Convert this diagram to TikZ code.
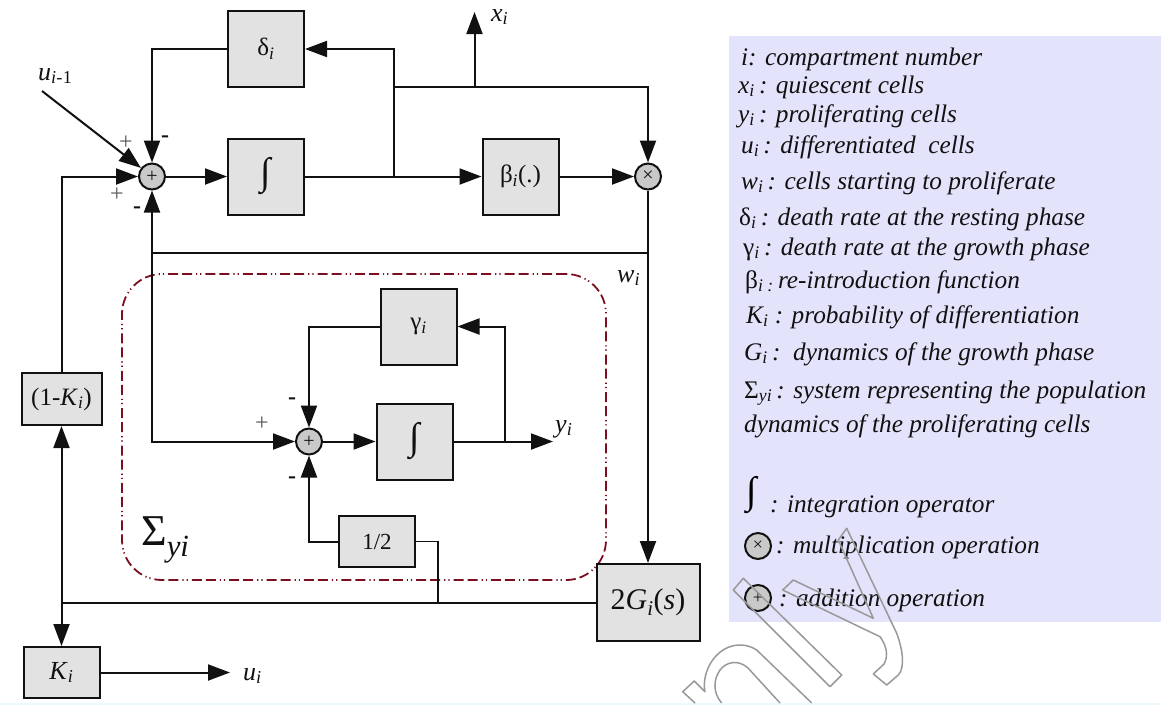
\documentclass[tikz,border=0pt]{standalone}
\usepackage{fontspec}
\setmainfont{Liberation Serif}
\usetikzlibrary{arrows.meta}
\newcommand{\idx}[1]{\textsubscript{\textit{#1}}}
\newcommand{\bigint}{\fontsize{38}{38}\selectfont ∫}
\definecolor{ink}{HTML}{111111}
\definecolor{boxgray}{HTML}{E2E2E2}
\definecolor{sumgray}{HTML}{C9C9C9}
\definecolor{panelblue}{HTML}{E3E3FB}
\definecolor{sigmared}{HTML}{7B0F1F}
\tikzset{
    wire/.style={draw=ink, line width=2pt},
    thinwire/.style={draw=ink, line width=1.5pt},
    sig/.style={wire, -{Triangle[length=22pt,width=16pt]}},
    blockbox/.style={draw=ink, fill=boxgray, line width=2pt, minimum width=76pt, minimum height=76pt, inner sep=0pt, text=ink},
    opsum/.style={circle, draw=ink, fill=sumgray, line width=2pt, minimum size=26pt, inner sep=0pt, text=ink, font=\fontsize{20}{20}\selectfont},
    lab/.style={anchor=base west, inner sep=0pt, text=ink, font=\fontsize{26}{26}\selectfont},
    signp/.style={inner sep=0pt, text=ink!70, font=\fontsize{24}{24}\selectfont},
    signm/.style={inner sep=0pt, text=ink, font=\bfseries\fontsize{24}{24}\selectfont},
    legtext/.style={anchor=base west, inner sep=0pt, text=ink, font=\itshape\fontsize{25.3}{25.3}\selectfont},
    mark line/.style={draw=black!40, line width=1.5pt, line join=round},
}
\begin{document}
\begin{tikzpicture}[x=1pt, y=-1pt]
        \useasboundingbox (0, 0) rectangle (1161, 705);
        % Untergrund
        \fill[panelblue] (729, 36) rectangle (1161, 622);
        \fill[blue!30!cyan!8] (0, 703) rectangle (1161, 705);
        \node (sigmabox) at (364, 427) [draw=sigmared, line width=1.8pt, rounded corners=40pt, minimum width=484pt, minimum height=306pt,
            dash pattern=on 10pt off 4pt on 10pt off 4pt on 1.2pt off 3pt on 1.2pt off 4pt] {};
        % Bloecke
        \node[blockbox] (delta) at (266, 49) {\fontsize{25}{25}\selectfont δ\idx{i}};
        \node[blockbox] (int1) at (266, 176.5) {\bigint};
        \node[blockbox, font=\fontsize{25}{25}\selectfont] (beta) at (520.5, 176.5) {β\idx{i}(.)};
        \node[blockbox, font=\fontsize{25}{25}\selectfont] (gamma) at (418.5, 326.5) {γ\idx{i}};
        \node[blockbox] (int2) at (414.5, 441.5) {\bigint};
        \node[blockbox, minimum height=51pt, font=\fontsize{23}{23}\selectfont] (half) at (377, 541.5) {1/2};
        \node[blockbox, minimum width=103pt, minimum height=77pt, font=\fontsize{30}{30}\selectfont] (growth) at (648, 602.5) {2\textit{G}\idx{i}(\textit{s})};
        \node[blockbox, minimum width=80pt, minimum height=52pt, font=\fontsize{25}{25}\selectfont] (onek) at (61.5, 399) {(1-\textit{K}\idx{i})};
        \node[blockbox, minimum height=51pt, font=\fontsize{26}{26}\selectfont] (prob) at (61.5, 672.5) {\textit{K}\idx{i}};
        \node[opsum] (sum1) at (152, 176.5) {+};
        \node[opsum] (sum2) at (309, 441.5) {+};
        \node[opsum] (mult) at (648, 176.5) {×};
        % Punkte
        \coordinate (uin) at (42, 91);
        \coordinate (tj) at (394, 176.5);
        \coordinate (tu) at (394, 87);
        \coordinate (xj) at (474.5, 87);
        \coordinate (xend) at (474.5, 12);
        \coordinate (busr) at (648, 253);
        \coordinate (busl) at (152, 253);
        \coordinate (yj) at (504.5, 441.5);
        \coordinate (yend) at (553, 441.5);
        \coordinate (halfj) at (438, 602.5);
        \coordinate (leftj) at (61.5, 602.5);
        \coordinate (uend) at (230, 672.5);
        % Signale
        \draw[sig] (uin) -- (sum1);
        \draw[sig] (delta) -| (sum1);
        \draw[sig] (onek) |- (sum1);
        \draw[sig] (busl) -- (sum1);
        \draw[sig] (sum1) -- (int1);
        \draw[sig] (int1) -- (beta);
        \draw[sig] (beta) -- (mult);
        \draw[sig] (tj) |- (delta);
        \draw[sig] (tu) -| (mult);
        \draw[sig] (xj) -- (xend);
        \draw[sig] (mult) -- (growth);
        \draw[wire] (busr) -- (busl);
        \draw[sig] (busl) |- (sum2);
        \draw[sig] (sum2) -- (int2);
        \draw[sig] (int2) -- (yend);
        \draw[sig] (yj) |- (gamma);
        \draw[sig] (gamma) -| (sum2);
        \draw[sig] (half) -| (sum2);
        \draw[thinwire] (half) -| (halfj);
        \draw[wire] (growth) -- (leftj);
        \draw[sig] (leftj) -- (onek);
        \draw[sig] (leftj) -- (prob);
        \draw[sig] (prob) -- (uend);
        % Beschriftung
        \node[lab] (luin) at (38, 80) {\textit{u}\idx{i-}\textsubscript{1}};
        \node[lab] (lx) at (491, 21) {\textit{x}\idx{i}};
        \node[lab] (lw) at (617, 282) {\textit{w}\idx{i}};
        \node[lab] (ly) at (555, 432) {\textit{y}\idx{i}};
        \node[lab] (lu) at (243, 680) {\textit{u}\idx{i}};
        \node[lab, font=\fontsize{44}{44}\selectfont] (lsigma) at (141, 545) {Σ\textsubscript{\textit{yi}}};
        \node[signp] (p1) at (126, 143) {+};
        \node[signp] (p2) at (117, 195) {+};
        \node[signm] (m1) at (165, 139) {-};
        \node[signm] (m2) at (137, 210) {-};
        \node[signp] (p3) at (262, 424) {+};
        \node[signm] (m3) at (292, 401) {-};
        \node[signm] (m4) at (292, 480) {-};
        % Legende
        \foreach \n/\x/\y/\t in {
            a/741/65/{i: compartment number},
            b/738/93/{x\idx{i}\,: quiescent cells},
            c/738/122/{y\idx{i}\,: proliferating cells},
            d/741/153/{u\idx{i}\,: differentiated\ \ cells},
            e/741/189/{w\idx{i}\,: cells starting to proliferate},
            f/739/225/{\textup{δ}\idx{i}\,: death rate at the resting phase},
            g/743/255/{\textup{γ}\idx{i}\,: death rate at the growth phase},
            h/745/288/{\textup{β}\idx{i :}\,re-introduction function},
            j/746/323/{K\idx{i}\ : probability of differentiation},
            k/744/360/{G\idx{i}\,:\ \ dynamics of the growth phase},
            l/744/398/{\textup{Σ}\idx{yi}\,: system representing the population},
            m/744/432/{dynamics of the proliferating cells},
            n/770/512/{: integration operator},
            o/776/553/{: multiplication operation},
            p/779/606/{: addition operation}}
        {
            \node[legtext] (leg\n) at (\x, \y) {\t};
        }
        \node[inner sep=0pt] (legint) at (752, 495) {\bigint};
        \node[opsum, font=\fontsize{18}{18}\selectfont] (legmult) at (758, 546) {×};
        \node[opsum, font=\fontsize{18}{18}\selectfont] (legsum) at (758, 598) {+};
        % Wasserzeichen
        \draw[mark line] (782.7, 590) -- (793.3, 580) -- (873.3, 618.3) -- (838.3, 540) -- (846.7, 528.3) -- (896.7, 633.3)
            .. controls (903, 650) and (905, 668) .. (898.3, 675) -- (886.7, 685) -- (873.3, 674) -- (884, 664)
            .. controls (889, 655) and (886, 645) .. (880, 636.7) -- cycle;
        \draw[mark line] (733.3, 590) -- (743.3, 578.3) -- (841.7, 675) -- (830, 686.7) -- cycle;
        \draw[mark line] (695, 703) -- (682.7, 691.7) -- (694.3, 681) -- (705, 691.7)
            .. controls (701, 672) and (716, 645) .. (740, 645)
            .. controls (747, 645) and (752, 647) .. (756.7, 650) -- (811.7, 703);
        \draw[mark line] (780, 703) -- (748, 668)
            .. controls (738, 659) and (726, 662) .. (720, 670)
            .. controls (713, 680) and (713, 693) .. (721.7, 703);
\end{tikzpicture}
\end{document}
